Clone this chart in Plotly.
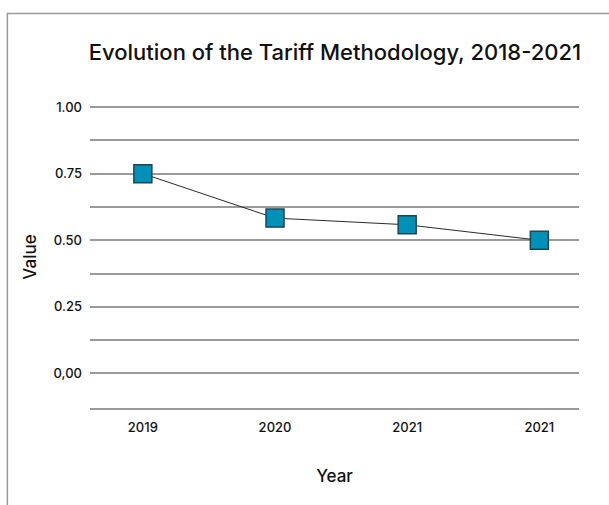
import plotly.graph_objects as go

# Chart data
years = ["2019", "2020", "2021", "2021"]
values = [0.75, 0.583, 0.558, 0.50]

# Y ticks: grid every 0.125, labels every 0.25
y_tickvals = [1.0, 0.875, 0.75, 0.625, 0.5, 0.375, 0.25, 0.125, 0.0]
y_ticktext = ["1.00", "", "0.75", "", "0.50", "", "0.25", "", "0,00"]

x_pos = list(range(len(years)))

fig = go.Figure()
fig.add_trace(go.Scatter(
    x=x_pos,
    y=values,
    mode="lines+markers",
    line=dict(color="#2b2b2b", width=1),
    marker=dict(symbol="square", size=18, color="#0090B8",
                line=dict(color="#1d4654", width=1.5)),
    showlegend=False,
    hoverinfo="skip",
))

grid_color = "#9a9a9a"
label_font = dict(family="Inter, sans-serif", size=13, color="#111111", weight=500)
title_font = dict(family="Inter, sans-serif", size=17, color="#111111", weight=500)

fig.update_layout(
    width=609,
    height=505,
    margin=dict(l=90, r=30, t=106, b=97),
    paper_bgcolor="white",
    plot_bgcolor="white",
    title=dict(
        text="Evolution of the Tariff Methodology, 2018-2021",
        x=0.55, xanchor="center", xref="container",
        y=0.897, yanchor="middle", yref="container",
        font=dict(family="Inter, sans-serif", size=22, color="#111111", weight=500),
    ),
    xaxis=dict(
        range=[-0.4, 3.3],
        tickmode="array",
        tickvals=x_pos,
        ticktext=years,
        showgrid=False,
        zeroline=False,
        showline=True,
        linecolor=grid_color,
        linewidth=1.5,
        ticks="",
        ticklabelstandoff=7,
        tickfont=label_font,
        title=dict(text="Year", standoff=36, font=title_font),
    ),
    yaxis=dict(
        range=[-0.13, 1.004],
        tickmode="array",
        tickvals=y_tickvals,
        ticktext=y_ticktext,
        showgrid=True,
        gridcolor=grid_color,
        gridwidth=1.5,
        zeroline=False,
        showline=False,
        ticks="",
        ticklabelstandoff=7,
        tickfont=label_font,
        title=dict(text="Value", standoff=12, font=title_font),
    ),
    shapes=[
        dict(type="rect", xref="paper", yref="paper",
             x0=-0.169, x1=1.5, y0=-0.5, y1=1.306,
             line=dict(color=grid_color, width=1.5),
             fillcolor="rgba(0,0,0,0)", layer="below"),
    ],
)

fig.write_html("out.html")
